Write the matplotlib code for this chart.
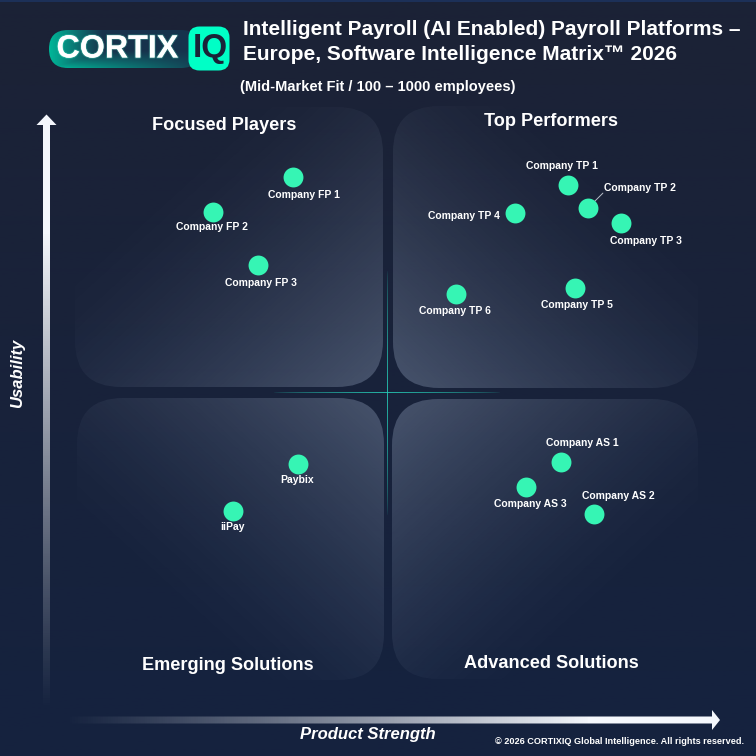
import numpy as np
import matplotlib
matplotlib.use("Agg")
import matplotlib.pyplot as plt
from matplotlib.patches import FancyBboxPatch, Polygon
from matplotlib import patheffects as pe

plt.rcParams['font.family'] = ['Liberation Sans', 'DejaVu Sans']

# ---- data (Product Strength, Usability on a 0-100 scale) ----
companies = ["Company FP 1", "Company FP 2", "Company FP 3",
             "Company TP 1", "Company TP 2", "Company TP 3", "Company TP 4",
             "Company TP 5", "Company TP 6",
             "Company AS 1", "Company AS 2", "Company AS 3", "Paybix", "iiPay"]
strength = [34.9, 22.0, 29.3, 79.1, 82.3, 87.6, 70.6, 80.2, 61.1, 78.0, 83.3, 72.3, 35.7, 25.2]
usability = [87.5, 81.4, 72.2, 86.1, 82.1, 79.5, 81.25, 68.2, 67.2, 38.0, 29.0, 33.7, 37.7, 29.5]
quadrants = ["Focused Players", "Top Performers", "Emerging Solutions", "Advanced Solutions"]
title_lines = ["Intelligent Payroll (AI Enabled) Payroll Platforms –",
               "Europe, Software Intelligence Matrix™ 2026"]
subtitle = "(Mid-Market Fit / 100 – 1000 employees)"
x_label = "Product Strength"
y_label = "Usability"
footer = "© 2026 CORTIXIQ Global Intelligence. All rights reserved."

# ---- label offsets from marker, pixels (dx right, dy down) ----
label_off = [(11, 18), (-1, 15), (3, 18), (-6, -19), (52, -20), (25, 18), (-51, 3),
             (2, 17), (-1, 17), (21, -19), (24, -18), (5, 17), (-1, 16), (0, 16)]

W = H = 756
fig = plt.figure(figsize=(7.56, 7.56), dpi=100)
px = fig.add_axes([0, 0, 1, 1])
px.set_xlim(0, W); px.set_ylim(H, 0); px.axis("off")

# background
top = np.array([28, 34, 54]) / 255
bot = np.array([21, 34, 63]) / 255
t = np.linspace(0, 1, 256)[:, None, None]
bg = top * (1 - t) + bot * t
px.imshow(bg, extent=(0, W, H, 0), aspect="auto", zorder=0)
px.fill_between([0, W], 0, 1.5, color="#1c3058", lw=0, zorder=0.5)

def panel(x0, y0, x1, y1, cx, cy, zorder=1):
    n = 320
    xs, ys = np.meshgrid(np.linspace(x0, x1, n), np.linspace(y0, y1, n))
    d = (np.abs(xs - cx) / (x1 - x0) + np.abs(ys - cy) / (y1 - y0)) / 2
    a = 0.006 + np.clip(1 - d / 0.7, 0, 1) ** 1.4 * 0.27
    img = np.ones((n, n, 4)); img[..., 3] = a
    img[..., 0] = 0.78; img[..., 1] = 0.85; img[..., 2] = 0.95
    im = px.imshow(img, extent=(x0, x1, y1, y0), aspect="auto", zorder=zorder)
    r = 46
    p = FancyBboxPatch((x0 + r, y0 + r), x1 - x0 - 2 * r, y1 - y0 - 2 * r,
                       boxstyle=f"round,pad={r},rounding_size={r}", lw=0, fc="none",
                       transform=px.transData)
    px.add_patch(p)
    im.set_clip_path(p)

panel(75, 107, 383, 387, 383, 387)
panel(393, 106, 698, 388, 393, 388)
panel(77, 398, 384, 680, 384, 398)
panel(392, 399, 698, 679, 392, 399)

# crosshair
def fade(x0, x1, y0, y1, horiz, peak):
    n = 256
    s = np.linspace(-1, 1, n)
    a = np.clip(1 - np.abs(s), 0, 1) ** 0.55 * peak
    img = np.zeros((1, n, 4)) if horiz else np.zeros((n, 1, 4))
    img[..., 0] = 0.15; img[..., 1] = 0.80; img[..., 2] = 0.72
    img[..., 3] = a[None, :] if horiz else a[:, None]
    px.imshow(img, extent=(x0, x1, y1, y0), aspect="auto", zorder=2)
fade(273, 501, 392.5, 393.5, True, 0.85)
fade(386.5, 387.5, 270, 516, False, 0.85)

# arrows
def grad_shape(verts, x0, x1, y0, y1, horiz):
    n = 256
    s = np.linspace(0, 1, n)
    a = np.clip(s * 1.25, 0, 1) ** 1.1
    if horiz:
        img = np.ones((1, n, 4)); img[..., 3] = a[None, :]
    else:
        img = np.ones((n, 1, 4)); img[..., 3] = a[::-1][:, None]
    img[..., :3] = (0.96, 0.97, 0.99)
    im = px.imshow(img, extent=(x0, x1, y1, y0), aspect="auto", zorder=3)
    poly = Polygon(verts, closed=True, lw=0, fc="none", transform=px.transData)
    px.add_patch(poly)
    im.set_clip_path(poly)

grad_shape([(43, 712), (43, 125), (36.5, 125), (46.5, 114.5), (56.5, 125), (50, 125), (50, 712)],
           36, 57, 114, 712, False)
grad_shape([(62, 716.5), (712, 716.5), (712, 710), (720, 720), (712, 730), (712, 723.5), (62, 723.5)],
           62, 721, 710, 730, True)

# logo
n = 300
lx0, lx1, ly0, ly1 = 49, 200, 30, 68
img = np.zeros((120, n, 4))
xs, ys = np.meshgrid(np.linspace(0, 1, n), np.linspace(0, 1, 120))
c0 = np.array([0.0, 0.72, 0.60]); c1 = np.array([0.09, 0.20, 0.30])
mix = np.clip(np.maximum(1 - xs / 0.35, (ys - 0.55) / 0.45 * (1 - xs * 0.9)), 0, 1)[..., None]
img[..., :3] = c0 * mix + c1 * (1 - mix)
img[..., 3] = 1
im = px.imshow(img, extent=(lx0, lx1, ly1, ly0), aspect="auto", zorder=3)
r = 19
pill = FancyBboxPatch((lx0 + r, ly0 + r), lx1 - lx0 - 2 * r, 0.01,
                      boxstyle=f"round,pad={r},rounding_size={r}", lw=0, fc="none", transform=px.transData)
px.add_patch(pill)
im.set_clip_path(pill)
px.text(56.5, 49.5, "CORTIX", color="white", fontsize=23.2, fontweight="bold", va="center", ha="left", zorder=5,
        path_effects=[pe.withStroke(linewidth=1.5, foreground=(0.4, 1, 0.85, 0.25))])
px.add_patch(FancyBboxPatch((199, 37), 20, 23, boxstyle="round,pad=10.5,rounding_size=11", lw=0, fc="#00ffc6", zorder=4))
px.text(210.5, 49, "IQ", color="#1a2338", fontsize=24, fontweight="bold", va="center", ha="center", zorder=5)

# header text
hdr = dict(color="white", fontweight="bold", va="center", ha="left", zorder=5)
px.text(243, 29.5, title_lines[0], fontsize=15.03, **hdr)
px.text(243, 54.5, title_lines[1], fontsize=15.03, **hdr)
px.text(240, 86.5, subtitle, fontsize=10.5, **hdr)

q_pos = [(224.5, 126), (550.5, 122), (228, 665.5), (551, 663)]
for q, (x, y) in zip(quadrants, q_pos):
    px.text(x, y, q, color="white", fontsize=13.1, fontweight="bold", ha="center", va="center", zorder=5)

px.text(368, 735, x_label, color="white", fontsize=12, fontweight="bold", fontstyle="italic",
        ha="center", va="center", zorder=5)
px.text(17.5, 373, y_label, color="white", fontsize=12, fontweight="bold", fontstyle="italic", rotation=90,
        ha="center", va="center", zorder=5)
px.text(744, 742, footer, color="white", fontsize=6.6, fontweight="bold", ha="right", va="center", zorder=5)

# data layer
ax = fig.add_axes([76 / W, 1 - 681 / H, (698 - 76) / W, (681 - 105) / H])
ax.set_xlim(0, 100); ax.set_ylim(0, 100); ax.axis("off"); ax.patch.set_alpha(0)
ax.scatter(strength, usability, s=205, color="#36f5b4", lw=0, zorder=5)
for name, x, y, (dx, dy) in zip(companies, strength, usability, label_off):
    ax.annotate(name, (x, y), xytext=(dx * 0.72, -dy * 0.72), textcoords="offset points",
                color="white", fontsize=7.5, fontweight="bold", ha="center", va="center", zorder=6)
i = companies.index("Company TP 2")
ax.annotate("", (strength[i], usability[i]), xytext=(15 * 0.72, 15 * 0.72), textcoords="offset points",
            arrowprops=dict(arrowstyle="-", color="#b8bec8", lw=0.7, shrinkA=0, shrinkB=0), zorder=4)

fig.savefig("out.png", dpi=100)
